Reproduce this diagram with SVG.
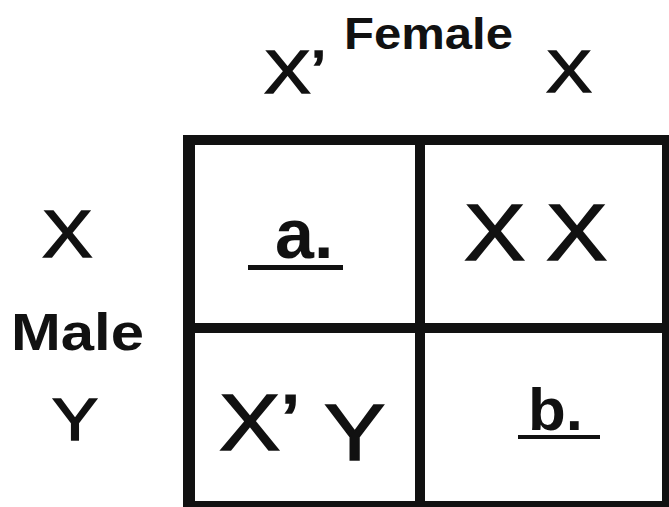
<svg xmlns="http://www.w3.org/2000/svg" width="669" height="507" viewBox="0 0 669 507">
<style>
  .t { font-family: "Liberation Sans", Arial, sans-serif; fill: #111; }
  .r { stroke: #111; stroke-width: 1.5; }
  .b { font-weight: bold; }
  .ln { fill: #111; }
</style>
<rect width="669" height="507" fill="#fff"/>
<g id="grid">
  <rect class="ln" x="183" y="135" width="12" height="372"/>
  <rect class="ln" x="183" y="135" width="486" height="10"/>
  <rect class="ln" x="662" y="135" width="10" height="372"/>
  <rect class="ln" x="415" y="135" width="10" height="372"/>
  <rect class="ln" x="183" y="323" width="486" height="10"/>
  <rect class="ln" x="183" y="501" width="486" height="10"/>
</g>
<g id="female-header">
  <text class="t b" font-size="45" transform="translate(344,49) scale(1.09,1)">Female</text>
  <text class="t r" font-size="61" transform="translate(264,93) scale(1.15,1)">X’</text>
  <text class="t r" font-size="60" transform="translate(546,92) scale(1.15,1)">X</text>
</g>
<g id="male-header">
  <text class="t r" font-size="66" transform="translate(42,257) scale(1.15,1)">X</text>
  <text class="t b" font-size="52" transform="translate(11,350) scale(1.15,1)">Male</text>
  <text class="t r" font-size="60" transform="translate(52,440) scale(1.15,1)">Y</text>
</g>
<g id="cell-a">
  <text class="t b" font-size="70" transform="translate(275,258)">a.</text>
  <rect class="ln" x="248" y="265" width="95" height="5"/>
</g>
<g id="cell-xx">
  <text class="t r" font-size="80" transform="translate(464,260) scale(1.15,1)">X</text>
  <text class="t r" font-size="80" transform="translate(546,260) scale(1.15,1)">X</text>
</g>
<g id="cell-xy">
  <text class="t r" font-size="80" transform="translate(219,450) scale(1.15,1)">X’</text>
  <text class="t r" font-size="80" transform="translate(324,460) scale(1.15,1)">Y</text>
</g>
<g id="cell-b">
  <text class="t b" font-size="60" transform="translate(528,430) scale(1.03,1)">b.</text>
  <rect class="ln" x="518" y="435" width="82" height="4"/>
</g>
</svg>
